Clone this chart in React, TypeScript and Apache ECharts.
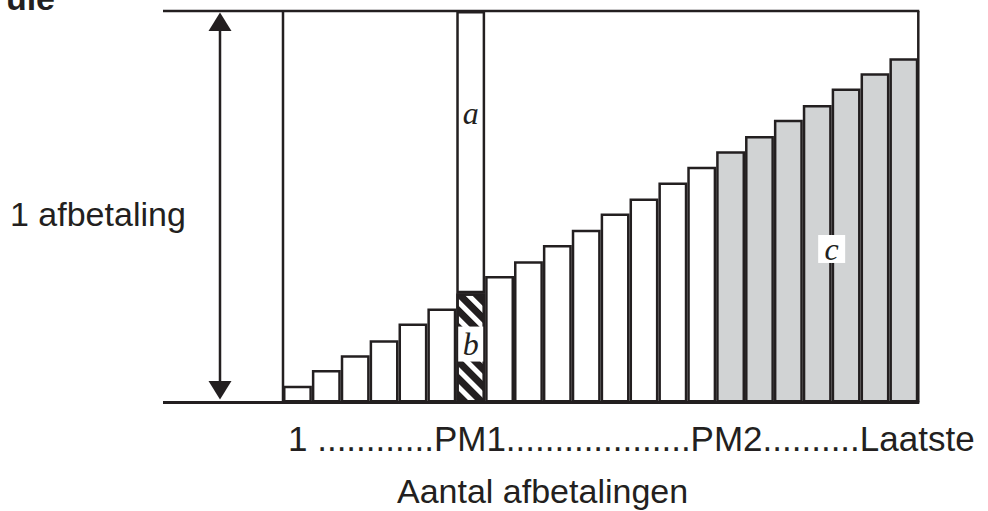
import React, { useEffect, useRef } from 'react';
import * as echarts from 'echarts';

// ---- data ----
const periods = ['1', '2', '3', '4', '5', '6', '7', '8', '9', '10', '11', '12', '13', '14', '15', '16', '17', '18', '19', '20', '21', '22'];
// height of each bar as a percentage of one payment ("1 afbetaling")
const barValues = [4.3, 8.3, 12.1, 15.9, 20.2, 24.0, 27.9, 32.3, 36.1, 40.2, 44.1, 48.3, 52.1, 56.2, 60.2, 64.2, 68.1, 72.2, 76.0, 80.2, 84.1, 87.9];
const payment = 100;
const pm1Index = 6;
const pm2Index = 15;
const cLabelIndex = 18;
const tickLabels = ['1', 'PM1', 'PM2', 'Laatste'];
const tickDots = [12, 19, 10];
const yLabel = '1 afbetaling';
const xLabel = 'Aantal afbetalingen';
const partLabels = ['a', 'b', 'c'];
const cornerText = 'ule';

const INK = '#231f20';
const GRAY = '#d1d3d4';
const SANS = '"Liberation Sans", Arial, Helvetica, sans-serif';
const SERIF = '"Liberation Serif", "Times New Roman", serif';

const italicLabel = {
  fontFamily: SERIF,
  fontStyle: 'italic' as const,
  fontSize: 32,
  color: INK,
};

export default function App() {
  const ref = useRef<HTMLDivElement>(null);

  useEffect(() => {
    if (!ref.current) return;
    const chart = echarts.init(ref.current, undefined, { renderer: 'svg' });

    const baseData = barValues.map((v, i) => {
      if (i === pm1Index) {
        return {
          value: v,
          itemStyle: {
            color: '#ffffff',
            decal: {
              symbol: 'rect',
              symbolSize: 1,
              dashArrayX: [1, 0],
              dashArrayY: [7, 5],
              rotation: Math.PI / 4,
              color: INK,
            },
          },
          label: {
            show: true,
            formatter: partLabels[1],
            position: ['50%', '46.5%'],
            align: 'center',
            verticalAlign: 'middle',
            backgroundColor: '#ffffff',
            width: 25,
            height: 35,
            lineHeight: 35,
            padding: 0,
            ...italicLabel,
          },
        };
      }
      if (i === cLabelIndex) {
        return {
          value: v,
          itemStyle: { color: GRAY },
          label: {
            show: true,
            formatter: partLabels[2],
            position: ['100%', '48.4%'],
            align: 'center',
            verticalAlign: 'middle',
            backgroundColor: '#ffffff',
            width: 27,
            height: 28,
            lineHeight: 28,
            padding: 0,
            ...italicLabel,
          },
        };
      }
      return { value: v, itemStyle: { color: i >= pm2Index ? GRAY : '#ffffff' } };
    });

    const topData = barValues.map((v, i) =>
      i === pm1Index
        ? {
            value: payment - v,
            label: {
              show: true,
              formatter: partLabels[0],
              position: ['50%', '36%'],
              align: 'center',
              verticalAlign: 'middle',
              ...italicLabel,
            },
          }
        : '-'
    );

    chart.setOption({
      animation: false,
      grid: { left: 283, right: 69.7, top: 11, bottom: 108.5, containLabel: false },
      xAxis: {
        type: 'category',
        data: periods,
        axisLine: { show: false },
        axisTick: { show: false },
        axisLabel: { show: false },
        splitLine: { show: false },
      },
      yAxis: { type: 'value', min: 0, max: payment, show: false },
      series: [
        {
          type: 'bar',
          stack: 'payment',
          barCategoryGap: '0%',
          data: baseData,
          itemStyle: { borderColor: INK, borderWidth: 2.5 },
        },
        {
          type: 'bar',
          stack: 'payment',
          barCategoryGap: '0%',
          data: topData,
          itemStyle: { color: '#ffffff', borderColor: INK, borderWidth: 2.5 },
        },
      ],
    });

    const yBase = chart.convertToPixel({ yAxisIndex: 0 }, 0) as number;
    const yTop = chart.convertToPixel({ yAxisIndex: 0 }, payment) as number;
    const c0 = chart.convertToPixel({ xAxisIndex: 0 }, periods[0]) as number;
    const c1 = chart.convertToPixel({ xAxisIndex: 0 }, periods[1]) as number;
    const cN = chart.convertToPixel({ xAxisIndex: 0 }, periods[periods.length - 1]) as number;
    const bw = c1 - c0;
    const left = c0 - bw / 2;
    const right = cN + bw / 2;
    const arrowX = 220;
    const lineLeft = 163;

    const tickText =
      tickLabels[0] + ' ' + '.'.repeat(tickDots[0]) + tickLabels[1] + '.'.repeat(tickDots[1]) + tickLabels[2] + '.'.repeat(tickDots[2]) + tickLabels[3];

    const txt = (text: string, x: number, y: number, font: string, align = 'left') => ({
      type: 'text',
      x,
      y,
      z: 20,
      style: {
        text,
        font,
        fill: INK,
        align,
        verticalAlign: 'middle',
        textAlign: align,
        textVerticalAlign: 'middle',
      },
    });

    chart.setOption({
      graphic: [
        { type: 'line', z: 1, shape: { x1: lineLeft, y1: yTop, x2: right + 1, y2: yTop }, style: { stroke: INK, lineWidth: 2.5 } },
        { type: 'line', z: 1, shape: { x1: left, y1: yTop, x2: left, y2: yBase }, style: { stroke: INK, lineWidth: 2.5 } },
        { type: 'line', z: 1, shape: { x1: right, y1: yTop, x2: right, y2: yBase }, style: { stroke: INK, lineWidth: 2.5 } },
        { type: 'line', z: 10, shape: { x1: lineLeft, y1: yBase, x2: right + 1, y2: yBase }, style: { stroke: INK, lineWidth: 3 } },
        { type: 'line', z: 1, shape: { x1: arrowX, y1: yTop + 15, x2: arrowX, y2: yBase - 15 }, style: { stroke: INK, lineWidth: 2.5 } },
        { type: 'polygon', z: 1, shape: { points: [[arrowX, yTop + 1.5], [arrowX - 11.5, yTop + 20], [arrowX + 11.5, yTop + 20]] }, style: { fill: INK } },
        { type: 'polygon', z: 1, shape: { points: [[arrowX, yBase - 3], [arrowX - 11.5, yBase - 21.5], [arrowX + 11.5, yBase - 21.5]] }, style: { fill: INK } },
        txt(cornerText, 55, -2, `bold 34px ${SANS}`, 'right'),
        txt(yLabel, 10, 214, `34px ${SANS}`),
        txt(tickText, 288, 438, `35px ${SANS}`),
        txt(xLabel, 397, 491, `34px ${SANS}`),
      ],
    });

    return () => chart.dispose();
  }, []);

  return (
    <div
      ref={ref}
      style={{ position: 'fixed', left: 0, top: 0, width: 988, height: 511, background: '#ffffff' }}
    />
  );
}
